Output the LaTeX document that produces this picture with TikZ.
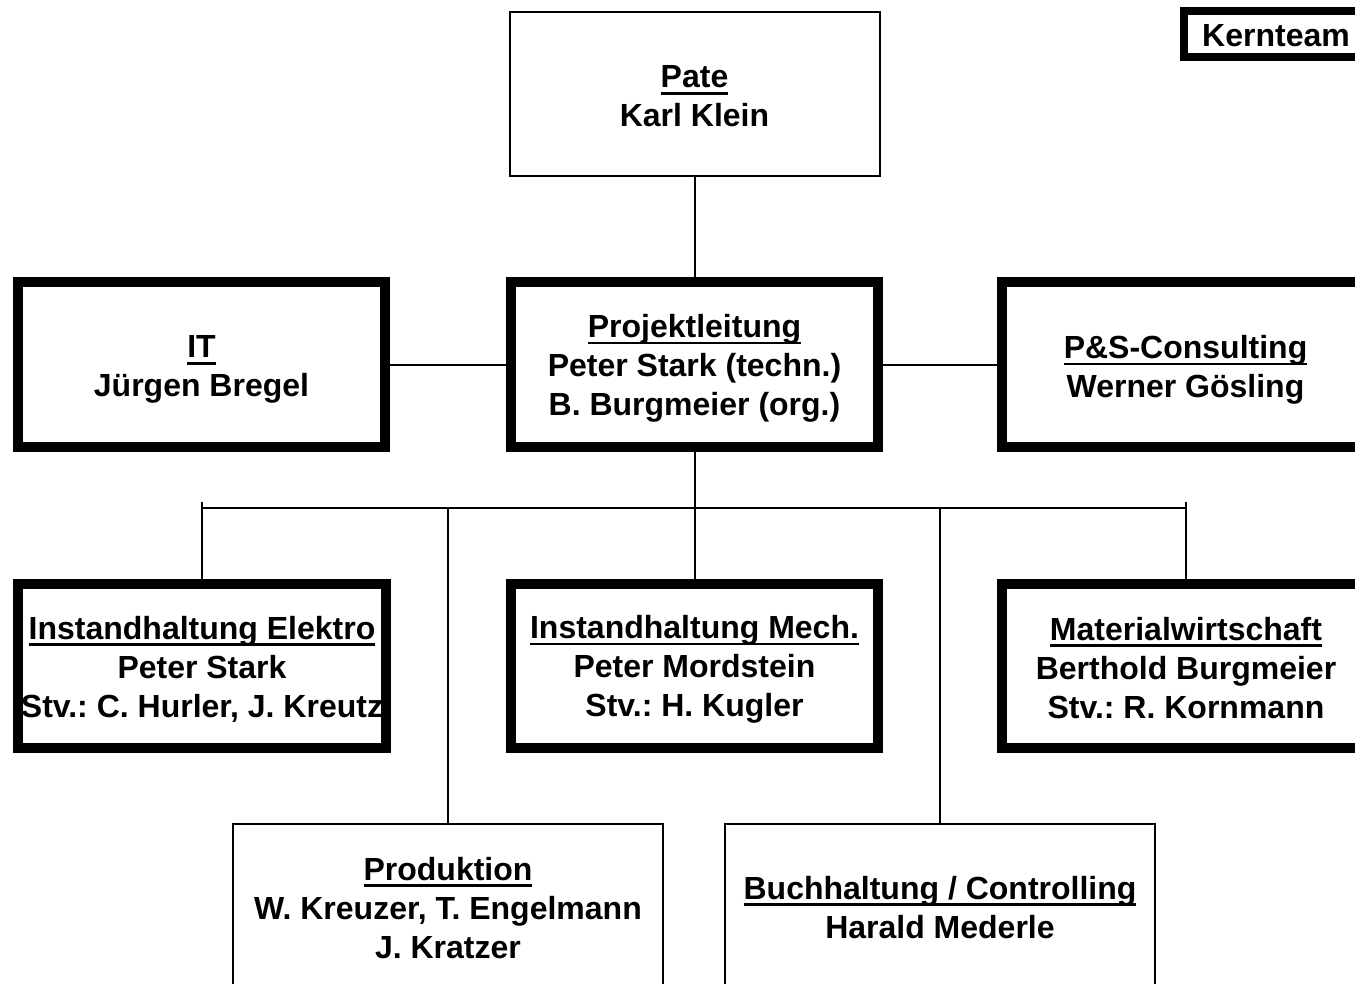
\documentclass[tikz,border=0pt]{standalone}
\usepackage{fontspec}
\setmainfont{Liberation Sans}
\frenchspacing
\newcommand\ulx[1]{\setbox0\hbox{#1}\rlap{\rule[-5pt]{\wd0}{2pt}}\box0}
\begin{document}
\begin{tikzpicture}[x=0.75pt,y=-0.75pt,
  every node/.style={outer sep=0pt,inner sep=0pt},
  thickbox/.style={draw,line width=6.8pt,fill=white,minimum height=123.75pt},
  thinbox/.style={draw,line width=1.5pt,fill=white,minimum height=123pt},
  txt/.style={align=center,font=\fontsize{24}{29.25}\selectfont\bfseries},
  conn/.style={line width=1.5pt}]
\useasboundingbox (0,0) rectangle (1355,984);
\clip (0,0) rectangle (1355,984);
\fill[white] (0,0) rectangle (1355,984);
% boxes
\node[thinbox,minimum width=277.5pt] (pate) at (694.5,94.5) {};
\node[txt] (patet) at ([yshift=-1.5pt]pate.center) {\ulx{Pate}\\Karl Klein};
\node[draw,line width=6pt,fill=white,minimum width=138pt,minimum height=34.5pt] (kern) at (1276,34) {};
\node[txt] (kernt) at ([yshift=-1pt]kern.center) {Kernteam};
\node[thickbox,minimum width=275.25pt] (it) at (201.5,364.5) {};
\node[txt] (itt) at ([yshift=-4pt]it.center) {\ulx{IT}\\Jürgen Bregel};
\node[thickbox,minimum width=275.25pt] (pl) at (694.5,364.5) {};
\node[txt] (plt) at ([yshift=-3pt]pl.center) {\ulx{Projektleitung}\\Peter Stark (techn.)\\B. Burgmeier (org.)};
\node[thickbox,minimum width=275.25pt] (ps) at (1185.5,364.5) {};
\node[txt] (pst) at ([yshift=-4pt]ps.center) {\ulx{P\&S-Consulting}\\Werner Gösling};
\node[thickbox,minimum width=276pt,minimum height=123pt] (ie) at (202,666) {};
\node[txt] (iet) at ([yshift=-2.5pt]ie.center) {\ulx{Instandhaltung Elektro}\\Peter Stark\\Stv.: C. Hurler, J. Kreutz};
\node[thickbox,minimum width=275.25pt,minimum height=123pt] (im) at (694.5,666) {};
\node[txt] (imt) at ([yshift=-2.5pt]im.center) {\ulx{Instandhaltung Mech.}\\Peter Mordstein\\Stv.: H. Kugler};
\node[thickbox,minimum width=276pt,minimum height=123pt] (mw) at (1186,666) {};
\node[txt] (mwt) at ([yshift=-1.5pt]mw.center) {\ulx{Materialwirtschaft}\\Berthold Burgmeier\\Stv.: R. Kornmann};
\node[thinbox,minimum width=322.5pt,minimum height=124pt] (prod) at (448,906.5) {};
\node[txt] (prodt) at ([yshift=-1pt]prod.center) {\ulx{Produktion}\\W. Kreuzer, T. Engelmann\\J. Kratzer};
\node[thinbox,minimum width=322.5pt,minimum height=124pt] (buch) at (940,906.5) {};
\node[txt] (bucht) at ([yshift=-0.5pt]buch.center) {\ulx{Buchhaltung / Controlling}\\Harald Mederle};
% connectors
\coordinate (bl) at (202,502);
\coordinate (br) at (1186,502);
\coordinate (bus1) at (202,508);
\coordinate (bus2) at (1186,508);
\coordinate (bp) at (448,508);
\coordinate (bb) at (940,508);
\draw[conn] (pate.south) -- (pl.north);
\draw[conn] (it.east) -- (pl.west);
\draw[conn] (pl.east) -- (ps.west);
\draw[conn] (pl.south) -- (im.north);
\draw[conn] (bus1) -- (bus2);
\draw[conn] (bl) -- (ie.north);
\draw[conn] (br) -- (mw.north);
\draw[conn] (bp) -- (prod.north);
\draw[conn] (bb) -- (buch.north);
\end{tikzpicture}
\end{document}
